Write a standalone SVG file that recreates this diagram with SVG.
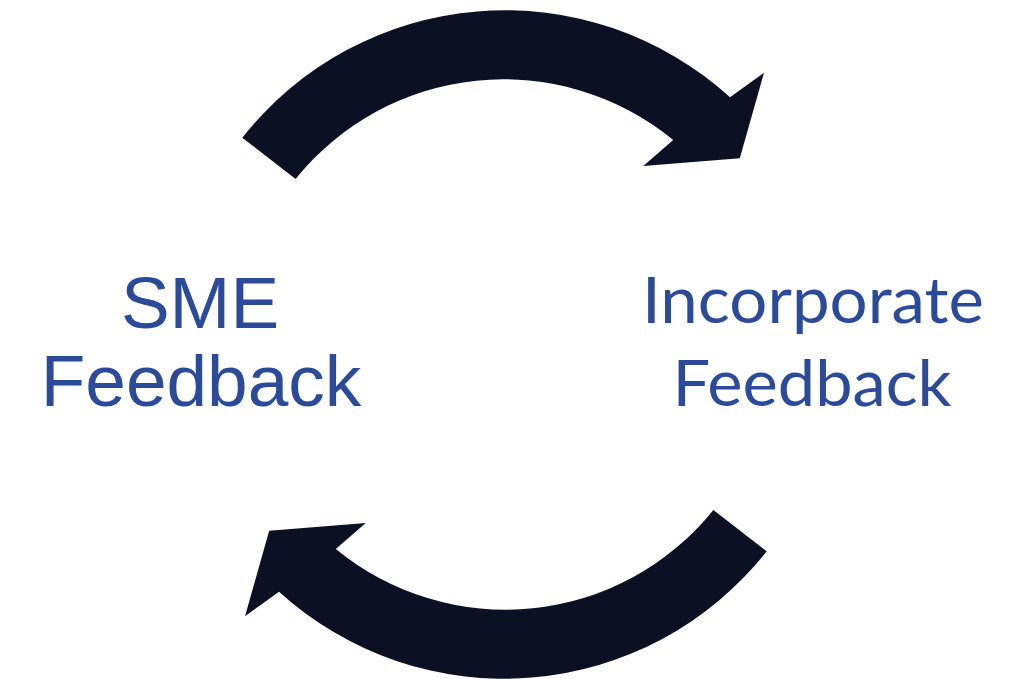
<svg xmlns="http://www.w3.org/2000/svg" width="1033" height="679" viewBox="0 0 1033 679">
<defs>
<style>
.arrow{fill:#0B1022;}
.lbl{fill:#2C4A9A;text-anchor:middle;}
.arial{font-family:"Liberation Sans",Arial,sans-serif;font-size:73px;}
.cal{font-family:Lato,"Open Sans",sans-serif;font-size:64px;}
</style>
<path id="arc" d="M 242.3,137.7 A 334.5 334.5 0 0 1 730,97.3 L 764,72.7 L 739.8,158.3 L 643.3,166 L 673.2,140 A 267 267 0 0 0 295.6,179 Z"/>
</defs>
<rect width="1033" height="679" fill="#fff"/>
<g id="connectors">
<use href="#arc" class="arrow"/>
<use href="#arc" class="arrow" transform="rotate(180 504.5 344.5)"/>
</g>
<g id="node-sme">
<text class="lbl arial" x="200" y="328">SME</text>
<text class="lbl arial" x="201" y="406">Feedback</text>
</g>
<g id="node-incorporate">
<text class="lbl cal" x="813" y="323" textLength="342" lengthAdjust="spacingAndGlyphs">Incorporate</text>
<text class="lbl cal" x="812" y="406" textLength="279" lengthAdjust="spacingAndGlyphs">Feedback</text>
</g>
</svg>
